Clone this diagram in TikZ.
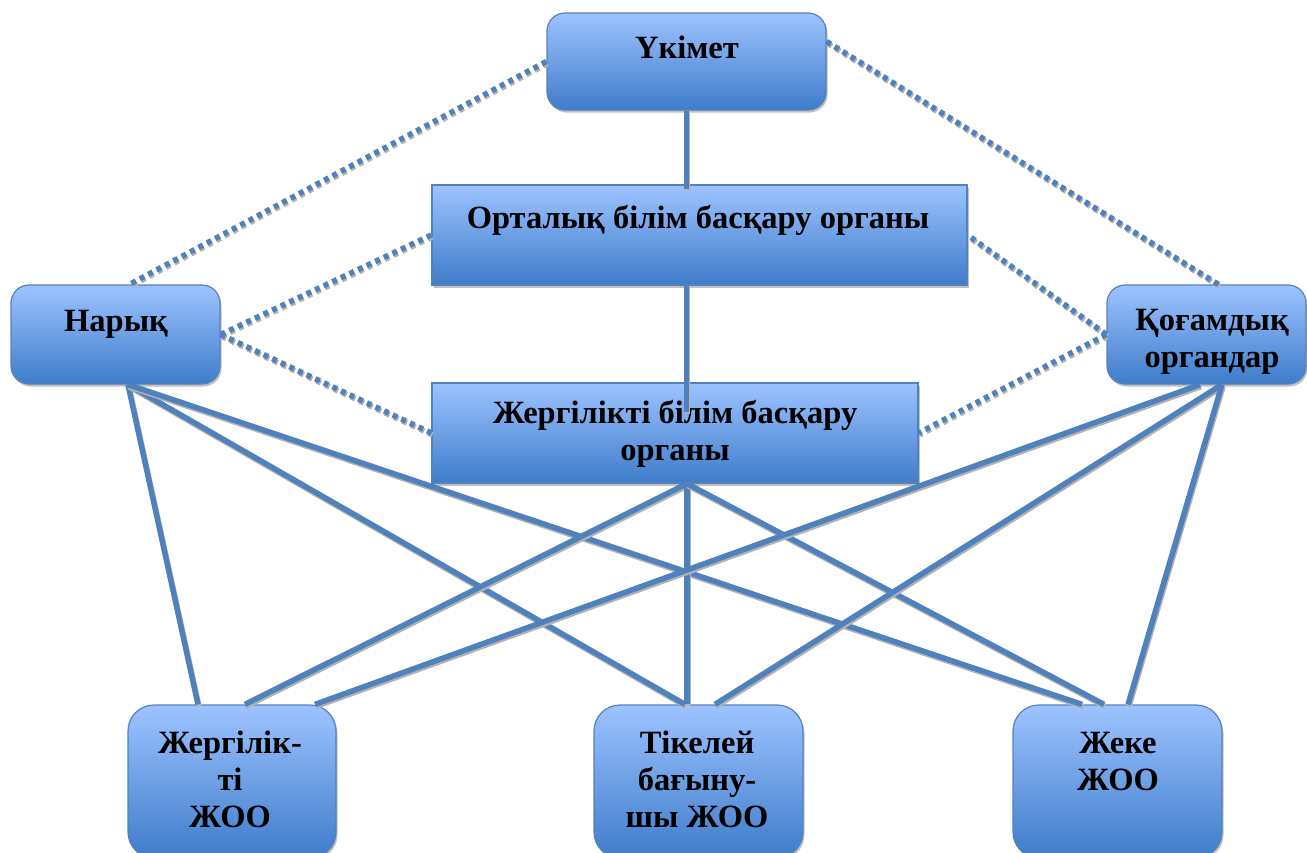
\documentclass[tikz,border=0pt]{standalone}
\usepackage{fontspec}
\setmainfont{Liberation Serif}
\usetikzlibrary{shadows,calc}
\definecolor{lineblue}{RGB}{79,129,189}
\definecolor{topblue}{RGB}{157,195,255}
\definecolor{botblue}{RGB}{62,124,202}
\definecolor{edgeblue}{RGB}{84,130,190}
\begin{document}
\begin{tikzpicture}[x=1pt,y=-1pt,
  boxbase/.style={draw=edgeblue, line width=1.2pt, top color=topblue, bottom color=botblue, inner sep=0pt,
    drop shadow={shadow xshift=1.5pt, shadow yshift=-2.5pt, fill=black!45, opacity=0.55}},
  rbox/.style={boxbase, rounded corners=18pt},
  bbox/.style={boxbase, rounded corners=26pt},
  sbox/.style={boxbase},
  lbl/.style={font=\fontsize{32.5}{37}\selectfont\bfseries, align=center, anchor=base, inner sep=0pt},
  conn/.style={draw=lineblue, line width=5.5pt,
    preaction={draw=black!30, line width=5.5pt, transform canvas={shift={(1pt,-2pt)}}}},
  dots/.style={draw=lineblue, line width=5.5pt, dash pattern=on 5pt off 4.5pt,
    preaction={draw=black!30, line width=5.5pt, dash pattern=on 5pt off 4.5pt, transform canvas={shift={(1pt,-2pt)}}}}
]
\useasboundingbox (0,0) rectangle (1307,852);
\clip (0,0) rectangle (1307,852);

% boxes
\node[rbox, minimum width=279pt, minimum height=97pt] (uk) at (686.5,61.5) {};
\node[sbox, minimum width=535pt, minimum height=100pt] (ort) at (699.5,235) {};
\node[rbox, minimum width=209pt, minimum height=99pt] (nar) at (115.5,334.5) {};
\node[rbox, minimum width=199pt, minimum height=99pt] (qog) at (1206.5,334.5) {};
\node[sbox, minimum width=486pt, minimum height=100pt] (jer) at (675,433) {};
\node[bbox, minimum width=208pt, minimum height=153pt] (b1) at (232,781.5) {};
\node[bbox, minimum width=209pt, minimum height=153pt] (b2) at (698.5,781.5) {};
\node[bbox, minimum width=209pt, minimum height=153pt] (b3) at (1117.5,781.5) {};

% labels (anchor base = baseline of the last line)
\node[lbl] (tuk) at (687,58) {Үкімет};
\node[lbl] (tort) at (698,228) {Орталық білім басқару органы};
\node[lbl] (tnar) at (116,331) {Нарық};
\node[lbl] (tqog) at (1212,367) {Қоғамдық\\органдар};
\node[lbl] (tjer) at (675,460) {Жергілікті білім басқару\\органы};
\node[lbl] (tb1) at (230,827) {Жергілік-\\ті\\ ЖОО};
\node[lbl] (tb2) at (697,827) {Тікелей\\бағыну-\\шы ЖОО};
\node[lbl] (tb3) at (1118,790) {Жеке\\ЖОО};

% dotted connectors
\draw[dots] (uk.west) -- ([xshift=14pt]nar.north);
\draw[dots] ([yshift=20pt]uk.east) -- ([xshift=12pt]qog.north);
\draw[dots] (nar.east) -- (ort.west);
\draw[dots] (nar.east) -- (jer.west);
\draw[dots] (qog.west) -- (ort.east);
\draw[dots] (qog.west) -- (jer.east);

% solid connectors
\draw[conn] (uk.south) -- ([yshift=-5pt]uk.south |- ort.north);
\draw[conn] (uk.south |- ort.south) -- ([yshift=-30pt]uk.south |- jer.north);
\draw[conn] ([xshift=12.5pt]nar.south) -- ([xshift=-34pt]b1.north);
\draw[conn] ([xshift=12.5pt]nar.south) -- ([xshift=-13.5pt]b2.north);
\draw[conn] ([xshift=12.5pt]nar.south) -- ([xshift=-35.5pt]b3.north);
\draw[conn] ([xshift=12pt]jer.south) -- ([xshift=13pt]b1.north);
\draw[conn] ([xshift=12pt]jer.south) -- ([xshift=-11.5pt]b2.north);
\draw[conn] ([xshift=12pt]jer.south) -- ([xshift=-13.5pt]b3.north);
\draw[conn] ([xshift=-6.5pt]qog.south) -- ([xshift=83pt]b1.north);
\draw[conn] ([xshift=15.5pt]qog.south) -- ([xshift=16.5pt]b2.north);
\draw[conn] ([xshift=15.5pt]qog.south) -- ([xshift=10.5pt]b3.north);
\end{tikzpicture}
\end{document}
